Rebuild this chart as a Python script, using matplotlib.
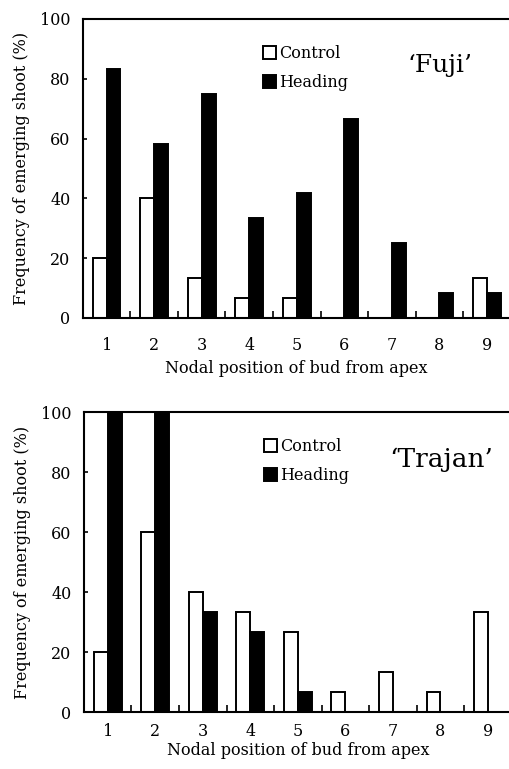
import numpy as np
import matplotlib
matplotlib.use('Agg')
import matplotlib.pyplot as plt
from matplotlib.patches import Patch

# Data
positions = [1, 2, 3, 4, 5, 6, 7, 8, 9]
fuji_control = [20, 40, 13.3, 6.7, 6.7, 0, 0, 0, 13.3]
fuji_heading = [83.3, 58.3, 75, 33.3, 41.7, 66.7, 25, 8.3, 8.3]
trajan_control = [20, 60, 40, 33.3, 26.7, 6.7, 13.3, 6.7, 33.3]
trajan_heading = [100, 100, 33.3, 26.7, 6.7, 0, 0, 0, 0]
y_ticks = [0, 20, 40, 60, 80, 100]

plt.rcParams['font.family'] = 'DejaVu Serif'
plt.rcParams['font.size'] = 11

fig = plt.figure(figsize=(5.09, 7.69), dpi=100)
ax1 = fig.add_axes([0.163, 0.5865, 0.84, 0.3888])
ax2 = fig.add_axes([0.165, 0.0741, 0.84, 0.390])

x = np.array(positions)
w = 0.29


def draw_panel(ax, control, heading, name, name_size, xpad, xlabelpad):
    ax.bar(x - w / 2, control, width=w, color='white', edgecolor='black', linewidth=1.4, clip_on=False)
    ax.bar(x + w / 2, heading, width=w, color='black', edgecolor='black', linewidth=1.4, clip_on=False)
    ax.set_xlim(0.5, 9.5)
    ax.set_ylim(0, 100)
    ax.set_yticks(y_ticks)
    ax.set_xticks(positions)
    ax.set_xticks(np.arange(1.5, 9.5, 1), minor=True)
    ax.tick_params(axis='x', which='major', length=0, pad=xpad, labelsize=11.5)
    ax.tick_params(axis='x', which='minor', direction='in', length=5, width=1.2)
    ax.tick_params(axis='y', direction='in', length=3, width=1.2, pad=9, labelsize=11.5)
    for s in ['left', 'top', 'bottom']:
        ax.spines[s].set_linewidth(1.5)
    ax.spines['right'].set_visible(False)
    ax.set_xlabel('Nodal position of bud from apex', fontsize=11.5, labelpad=xlabelpad)
    ax.set_ylabel('Frequency of emerging shoot (%)', fontsize=11.5, labelpad=7)
    handles = [Patch(facecolor='white', edgecolor='black', linewidth=1.4),
               Patch(facecolor='black', edgecolor='black', linewidth=1.4)]
    ax.legend(handles, ['Control', 'Heading'], loc='upper left', bbox_to_anchor=(0.405, 0.935),
              frameon=False, handlelength=0.85, handleheight=0.85, handletextpad=0.2,
              labelspacing=0.75, fontsize=11.5, borderaxespad=0)
    ax.text(0.836, 0.843, name, transform=ax.transAxes, ha='center', va='center', fontsize=name_size)


draw_panel(ax1, fuji_control, fuji_heading, '\u2018Fuji\u2019', 18, 14, 4)
draw_panel(ax2, trajan_control, trajan_heading, '\u2018Trajan\u2019', 19, 8, 1)

fig.savefig('out.png', dpi=100)
